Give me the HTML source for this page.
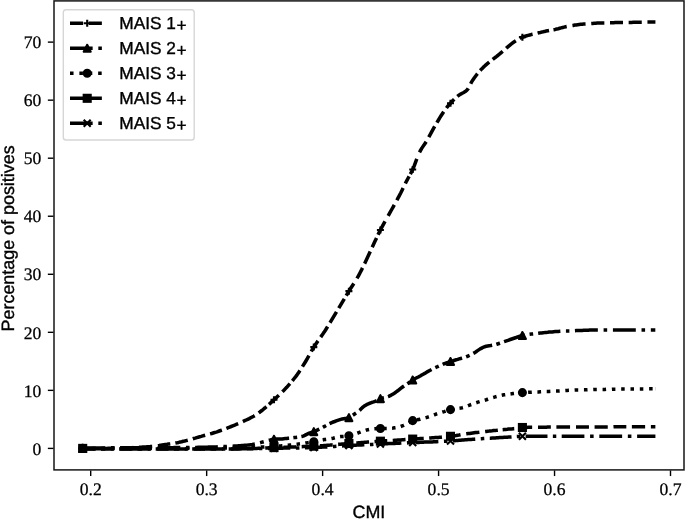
<!DOCTYPE html>
<html><head><meta charset="utf-8"><title>MAIS vs CMI</title>
<style>
html,body{margin:0;padding:0;background:#fff}
svg{display:block}
text{text-rendering:geometricPrecision}
.tk{font-family:"Liberation Serif","DejaVu Serif",serif;font-size:17.6px;fill:#000;stroke:#000;stroke-width:.25px}
.lb{font-family:"Liberation Sans","DejaVu Sans",sans-serif;font-size:17.9px;fill:#000;stroke:#000;stroke-width:.35px}
.lg{font-family:"Liberation Sans","DejaVu Sans",sans-serif;font-size:17.3px;fill:#000;stroke:#000;stroke-width:.35px}
</style></head><body>
<svg width="685" height="519" viewBox="0 0 685 519">
<rect width="685" height="519" fill="#fff"/>
<g fill="none" stroke="#000" stroke-width="3.54" stroke-linejoin="round">
<path d="M82.7 448.4 L84.2 448.4 L85.7 448.4 L87.2 448.4 L88.7 448.4 L90.2 448.4 L91.7 448.4 L93.2 448.4 L94.7 448.4 L96.2 448.4 L97.7 448.4 L99.2 448.4 L100.7 448.4 L102.2 448.4 L103.7 448.4 L105.2 448.4 L106.7 448.4 L108.2 448.3 L109.7 448.3 L111.2 448.3 L112.7 448.3 L114.2 448.2 L115.7 448.2 L117.2 448.2 L118.7 448.1 L120.2 448.1 L121.7 448.1 L123.2 448.0 L124.7 448.0 L126.2 447.9 L127.7 447.9 L129.2 447.8 L130.7 447.7 L132.2 447.7 L133.7 447.6 L135.2 447.5 L136.7 447.5 L138.2 447.4 L139.7 447.3 L141.2 447.2 L142.7 447.1 L144.2 447.0 L145.7 446.9 L147.2 446.8 L148.7 446.7 L150.2 446.6 L151.7 446.4 L153.2 446.3 L154.7 446.1 L156.2 445.9 L157.7 445.7 L159.2 445.5 L160.7 445.2 L162.2 445.0 L163.7 444.8 L165.2 444.6 L166.7 444.4 L168.2 444.1 L169.7 443.9 L171.2 443.7 L172.7 443.4 L174.2 443.2 L175.7 442.9 L177.2 442.7 L178.7 442.4 L180.2 442.0 L181.7 441.7 L183.2 441.3 L184.7 441.0 L186.2 440.6 L187.7 440.2 L189.2 439.8 L190.7 439.4 L192.2 439.0 L193.7 438.5 L195.2 438.1 L196.7 437.6 L198.2 437.2 L199.7 436.8 L201.2 436.4 L202.7 435.9 L204.2 435.5 L205.7 435.1 L207.2 434.7 L208.7 434.3 L210.2 433.9 L211.7 433.5 L213.2 433.0 L214.7 432.5 L216.2 432.1 L217.7 431.6 L219.2 431.0 L220.7 430.5 L222.2 430.0 L223.7 429.4 L225.2 428.9 L226.7 428.3 L228.2 427.7 L229.7 427.1 L231.2 426.5 L232.7 425.9 L234.2 425.3 L235.7 424.7 L237.2 424.0 L238.7 423.4 L240.2 422.7 L241.7 422.1 L243.2 421.4 L244.7 420.7 L246.2 420.0 L247.7 419.3 L249.2 418.6 L250.7 417.8 L252.2 417.0 L253.7 416.2 L255.2 415.3 L256.7 414.3 L258.2 413.3 L259.7 412.2 L261.2 411.0 L262.7 409.8 L264.2 408.5 L265.7 407.3 L267.2 406.0 L268.7 404.6 L270.2 403.3 L271.7 401.9 L273.2 400.5 L274.7 399.0 L276.2 397.7 L277.7 396.3 L279.2 394.9 L280.7 393.4 L282.2 392.0 L283.7 390.5 L285.2 388.9 L286.7 387.3 L288.2 385.6 L289.7 383.9 L291.2 382.2 L292.7 380.4 L294.2 378.5 L295.7 376.6 L297.2 374.6 L298.7 372.4 L300.2 370.2 L301.7 367.9 L303.2 365.4 L304.7 363.0 L306.2 360.5 L307.7 357.9 L309.2 355.3 L310.7 352.5 L312.2 349.8 L313.7 347.3 L315.2 344.9 L316.7 342.7 L318.2 340.6 L319.7 338.5 L321.2 336.4 L322.7 334.3 L324.2 332.1 L325.7 329.7 L327.2 327.3 L328.7 324.9 L330.2 322.4 L331.7 319.9 L333.2 317.4 L334.7 314.9 L336.2 312.4 L337.7 309.9 L339.2 307.4 L340.7 304.9 L342.2 302.4 L343.7 299.9 L345.2 297.4 L346.7 294.8 L348.2 292.3 L349.7 289.9 L351.2 287.5 L352.7 285.2 L354.2 282.9 L355.7 280.5 L357.2 278.0 L358.7 275.3 L360.2 272.5 L361.7 269.6 L363.2 266.5 L364.7 263.4 L366.2 260.3 L367.7 257.1 L369.2 253.8 L370.7 250.5 L372.2 247.2 L373.7 244.0 L375.2 240.8 L376.7 237.6 L378.2 234.4 L379.7 231.4 L381.2 228.5 L382.7 225.7 L384.2 222.9 L385.7 220.3 L387.2 217.6 L388.7 214.9 L390.2 212.2 L391.7 209.5 L393.2 206.9 L394.7 204.2 L396.2 201.5 L397.7 198.7 L399.2 195.9 L400.7 193.0 L402.2 189.9 L403.7 186.8 L405.2 183.8 L406.7 180.8 L408.2 178.0 L409.7 175.3 L411.2 172.5 L412.7 169.5 L414.2 165.9 L415.7 161.8 L417.2 157.7 L418.7 154.0 L420.2 151.0 L421.7 148.4 L423.2 146.1 L424.7 143.9 L426.2 141.6 L427.7 139.1 L429.2 136.4 L430.7 133.7 L432.2 130.9 L433.7 128.2 L435.2 125.6 L436.7 123.0 L438.2 120.5 L439.7 117.9 L441.2 115.5 L442.7 113.2 L444.2 111.0 L445.7 109.0 L447.2 107.0 L448.7 105.2 L450.2 103.5 L451.7 101.9 L453.2 100.3 L454.7 98.8 L456.2 97.4 L457.7 96.1 L459.2 95.0 L460.7 94.1 L462.2 93.3 L463.7 92.5 L465.2 91.6 L466.7 90.4 L468.2 88.6 L469.7 85.8 L471.2 82.7 L472.7 80.2 L474.2 78.0 L475.7 76.0 L477.2 74.0 L478.7 72.2 L480.2 70.5 L481.7 68.9 L483.2 67.4 L484.7 66.0 L486.2 64.6 L487.7 63.3 L489.2 62.1 L490.7 60.9 L492.2 59.8 L493.7 58.6 L495.2 57.5 L496.7 56.4 L498.2 55.1 L499.7 53.9 L501.2 52.6 L502.7 51.4 L504.2 50.1 L505.7 48.8 L507.2 47.4 L508.7 46.1 L510.2 44.8 L511.7 43.6 L513.2 42.5 L514.7 41.5 L516.2 40.5 L517.7 39.5 L519.2 38.6 L520.7 37.9 L522.2 37.2 L523.7 36.7 L525.2 36.2 L526.7 35.8 L528.2 35.4 L529.7 35.0 L531.2 34.6 L532.7 34.3 L534.2 33.9 L535.7 33.6 L537.2 33.2 L538.7 32.8 L540.2 32.5 L541.7 32.1 L543.2 31.8 L544.7 31.4 L546.2 31.1 L547.7 30.8 L549.2 30.5 L550.7 30.2 L552.2 29.9 L553.7 29.7 L555.2 29.4 L556.7 29.0 L558.2 28.7 L559.7 28.3 L561.2 27.9 L562.7 27.5 L564.2 27.1 L565.7 26.7 L567.2 26.4 L568.7 26.1 L570.2 25.9 L571.7 25.6 L573.2 25.4 L574.7 25.1 L576.2 24.9 L577.7 24.7 L579.2 24.5 L580.7 24.3 L582.2 24.2 L583.7 24.0 L585.2 23.9 L586.7 23.8 L588.2 23.7 L589.7 23.6 L591.2 23.5 L592.7 23.4 L594.2 23.3 L595.7 23.2 L597.2 23.1 L598.7 23.1 L600.2 23.0 L601.7 23.0 L603.2 22.9 L604.7 22.9 L606.2 22.8 L607.7 22.8 L609.2 22.7 L610.7 22.7 L612.2 22.7 L613.7 22.7 L615.2 22.6 L616.7 22.6 L618.2 22.6 L619.7 22.5 L621.2 22.5 L622.7 22.5 L624.2 22.5 L625.7 22.4 L627.2 22.4 L628.7 22.4 L630.2 22.4 L631.7 22.4 L633.2 22.3 L634.7 22.3 L636.2 22.3 L637.7 22.3 L639.2 22.2 L640.7 22.2 L642.2 22.2 L643.7 22.2 L645.2 22.2 L646.7 22.1 L648.2 22.1 L649.7 22.1 L651.2 22.1 L652.7 22.0 L654.2 22.0 L655.5 22.0" stroke-dasharray="13.09,5.66,13.09,5.66,13.10,5.67,13.29,5.75,12.52,5.15,12.75,5.20,12.88,5.11,12.43,4.75,12.77,5.15,13.20,4.82,9.98,3.31,13.64,4.90,11.02,3.76,12.77,4.62,12.75,4.79,12.60,4.63,12.62,4.54,12.60,4.46,10.79,3.72,14.37,5.96,11.88,4.71,13.35,4.83,10.23,3.51,15.01,6.38,12.50,5.40,13.66,5.06,8.10,2.50,16.65,7.05,12.61,5.15,12.26,4.41,12.88,4.57,11.78,4.25,13.65,5.33,12.03,4.28,12.37,4.36,12.87,4.61,12.26,4.68,13.43,5.16,11.72,4.51,13.63,5.82,13.21,5.71,13.14,5.68,12.99,5.62,13.13,5.68,8.00"/>
<path d="M82.7 448.4 L84.2 448.3 L85.7 448.1 L87.2 448.0 L88.7 447.9 L90.2 447.9 L91.7 447.9 L93.2 447.9 L94.7 447.9 L96.2 447.9 L97.7 447.9 L99.2 447.9 L100.7 447.9 L102.2 447.9 L103.7 447.9 L105.2 447.9 L106.7 447.9 L108.2 447.9 L109.7 447.8 L111.2 447.8 L112.7 447.8 L114.2 447.8 L115.7 447.8 L117.2 447.8 L118.7 447.8 L120.2 447.8 L121.7 447.8 L123.2 447.8 L124.7 447.8 L126.2 447.8 L127.7 447.8 L129.2 447.8 L130.7 447.8 L132.2 447.8 L133.7 447.8 L135.2 447.8 L136.7 447.8 L138.2 447.8 L139.7 447.8 L141.2 447.8 L142.7 447.8 L144.2 447.8 L145.7 447.8 L147.2 447.8 L148.7 447.8 L150.2 447.8 L151.7 447.8 L153.2 447.8 L154.7 447.8 L156.2 447.8 L157.7 447.8 L159.2 447.8 L160.7 447.8 L162.2 447.7 L163.7 447.7 L165.2 447.7 L166.7 447.7 L168.2 447.7 L169.7 447.7 L171.2 447.7 L172.7 447.7 L174.2 447.6 L175.7 447.6 L177.2 447.6 L178.7 447.6 L180.2 447.6 L181.7 447.6 L183.2 447.5 L184.7 447.5 L186.2 447.5 L187.7 447.5 L189.2 447.5 L190.7 447.4 L192.2 447.4 L193.7 447.4 L195.2 447.4 L196.7 447.4 L198.2 447.3 L199.7 447.3 L201.2 447.3 L202.7 447.3 L204.2 447.2 L205.7 447.2 L207.2 447.2 L208.7 447.1 L210.2 447.1 L211.7 447.0 L213.2 447.0 L214.7 446.9 L216.2 446.9 L217.7 446.8 L219.2 446.8 L220.7 446.7 L222.2 446.6 L223.7 446.6 L225.2 446.5 L226.7 446.5 L228.2 446.4 L229.7 446.3 L231.2 446.2 L232.7 446.2 L234.2 446.1 L235.7 446.0 L237.2 445.9 L238.7 445.8 L240.2 445.7 L241.7 445.6 L243.2 445.5 L244.7 445.3 L246.2 445.2 L247.7 445.1 L249.2 444.9 L250.7 444.7 L252.2 444.5 L253.7 444.2 L255.2 443.9 L256.7 443.5 L258.2 443.1 L259.7 442.8 L261.2 442.4 L262.7 442.0 L264.2 441.6 L265.7 441.2 L267.2 440.8 L268.7 440.3 L270.2 440.0 L271.7 439.6 L273.2 439.4 L274.7 439.2 L276.2 439.1 L277.7 439.1 L279.2 439.0 L280.7 438.9 L282.2 438.9 L283.7 438.7 L285.2 438.6 L286.7 438.5 L288.2 438.3 L289.7 438.2 L291.2 438.0 L292.7 437.8 L294.2 437.6 L295.7 437.5 L297.2 437.3 L298.7 437.1 L300.2 436.8 L301.7 436.5 L303.2 436.1 L304.7 435.4 L306.2 434.6 L307.7 433.9 L309.2 433.2 L310.7 432.7 L312.2 432.2 L313.7 431.6 L315.2 431.0 L316.7 430.3 L318.2 429.6 L319.7 428.9 L321.2 428.2 L322.7 427.4 L324.2 426.6 L325.7 425.8 L327.2 424.9 L328.7 424.0 L330.2 423.3 L331.7 422.6 L333.2 422.0 L334.7 421.5 L336.2 420.9 L337.7 420.4 L339.2 419.9 L340.7 419.4 L342.2 419.0 L343.7 418.7 L345.2 418.4 L346.7 418.2 L348.2 417.8 L349.7 417.3 L351.2 416.4 L352.7 415.3 L354.2 414.3 L355.7 413.2 L357.2 412.2 L358.7 411.0 L360.2 409.8 L361.7 408.3 L363.2 406.9 L364.7 405.8 L366.2 404.9 L367.7 404.2 L369.2 403.5 L370.7 402.9 L372.2 402.3 L373.7 401.9 L375.2 401.3 L376.7 400.7 L378.2 399.8 L379.7 398.9 L381.2 398.3 L382.7 397.9 L384.2 397.6 L385.7 397.3 L387.2 396.9 L388.7 396.4 L390.2 395.7 L391.7 394.8 L393.2 393.9 L394.7 393.0 L396.2 391.9 L397.7 390.8 L399.2 389.6 L400.7 388.4 L402.2 387.3 L403.7 386.2 L405.2 385.2 L406.7 384.2 L408.2 383.2 L409.7 382.1 L411.2 381.0 L412.7 380.0 L414.2 379.1 L415.7 378.3 L417.2 377.5 L418.7 376.8 L420.2 376.0 L421.7 375.1 L423.2 374.2 L424.7 373.4 L426.2 372.5 L427.7 371.6 L429.2 370.8 L430.7 370.0 L432.2 369.2 L433.7 368.4 L435.2 367.7 L436.7 367.0 L438.2 366.3 L439.7 365.6 L441.2 365.0 L442.7 364.3 L444.2 363.7 L445.7 363.2 L447.2 362.6 L448.7 362.1 L450.2 361.6 L451.7 361.1 L453.2 360.7 L454.7 360.2 L456.2 359.8 L457.7 359.4 L459.2 358.9 L460.7 358.5 L462.2 358.1 L463.7 357.7 L465.2 357.2 L466.7 356.6 L468.2 356.0 L469.7 355.3 L471.2 354.5 L472.7 353.7 L474.2 352.9 L475.7 352.0 L477.2 350.9 L478.7 349.9 L480.2 348.9 L481.7 348.1 L483.2 347.3 L484.7 346.7 L486.2 346.3 L487.7 346.0 L489.2 345.8 L490.7 345.6 L492.2 345.3 L493.7 345.0 L495.2 344.7 L496.7 344.2 L498.2 343.7 L499.7 343.2 L501.2 342.7 L502.7 342.1 L504.2 341.6 L505.7 341.1 L507.2 340.6 L508.7 340.1 L510.2 339.5 L511.7 339.0 L513.2 338.5 L514.7 338.0 L516.2 337.5 L517.7 336.9 L519.2 336.4 L520.7 335.9 L522.2 335.5 L523.7 335.2 L525.2 335.0 L526.7 334.7 L528.2 334.5 L529.7 334.3 L531.2 334.1 L532.7 333.9 L534.2 333.7 L535.7 333.5 L537.2 333.4 L538.7 333.2 L540.2 333.0 L541.7 332.9 L543.2 332.7 L544.7 332.6 L546.2 332.4 L547.7 332.3 L549.2 332.1 L550.7 332.0 L552.2 331.9 L553.7 331.7 L555.2 331.6 L556.7 331.5 L558.2 331.4 L559.7 331.3 L561.2 331.2 L562.7 331.2 L564.2 331.1 L565.7 331.0 L567.2 331.0 L568.7 330.9 L570.2 330.9 L571.7 330.8 L573.2 330.7 L574.7 330.7 L576.2 330.6 L577.7 330.6 L579.2 330.5 L580.7 330.5 L582.2 330.4 L583.7 330.3 L585.2 330.3 L586.7 330.2 L588.2 330.2 L589.7 330.1 L591.2 330.1 L592.7 330.0 L594.2 330.0 L595.7 330.0 L597.2 329.9 L598.7 329.9 L600.2 329.9 L601.7 329.9 L603.2 329.9 L604.7 329.9 L606.2 329.9 L607.7 329.9 L609.2 329.9 L610.7 329.9 L612.2 329.9 L613.7 329.9 L615.2 329.9 L616.7 329.9 L618.2 329.9 L619.7 329.9 L621.2 329.9 L622.7 329.9 L624.2 329.9 L625.7 329.9 L627.2 329.9 L628.7 329.9 L630.2 329.9 L631.7 329.9 L633.2 329.9 L634.7 329.9 L636.2 329.9 L637.7 329.9 L639.2 329.9 L640.7 329.9 L642.2 329.9 L643.7 329.9 L645.2 329.9 L646.7 329.9 L648.2 329.9 L649.7 329.9 L651.2 329.9 L652.7 329.9 L654.2 329.9 L655.5 329.9" stroke-dasharray="22.65,5.66,3.54,5.66,22.64,5.66,3.54,5.66,22.64,5.66,3.54,5.66,22.59,5.65,3.53,5.65,22.46,5.32,3.83,5.18,20.54,4.29,3.82,4.29,19.46,3.99,3.63,3.99,20.73,4.31,3.83,4.31,20.11,4.15,3.73,4.15,19.38,3.97,3.62,3.97,20.50,4.25,3.79,4.25,20.45,4.24,3.79,4.24,20.76,4.31,3.83,4.32,21.71,4.92,3.62,5.04,22.33,5.55,3.47,5.55,22.95,5.74,3.59,5.74,22.88,5.72,3.58,5.72,4.50"/>
<path d="M82.7 448.4 L84.2 448.4 L85.7 448.4 L87.2 448.4 L88.7 448.4 L90.2 448.4 L91.7 448.4 L93.2 448.4 L94.7 448.4 L96.2 448.4 L97.7 448.4 L99.2 448.4 L100.7 448.4 L102.2 448.4 L103.7 448.4 L105.2 448.4 L106.7 448.4 L108.2 448.4 L109.7 448.4 L111.2 448.4 L112.7 448.4 L114.2 448.4 L115.7 448.4 L117.2 448.4 L118.7 448.4 L120.2 448.4 L121.7 448.4 L123.2 448.4 L124.7 448.4 L126.2 448.4 L127.7 448.4 L129.2 448.4 L130.7 448.4 L132.2 448.4 L133.7 448.4 L135.2 448.4 L136.7 448.4 L138.2 448.4 L139.7 448.4 L141.2 448.4 L142.7 448.3 L144.2 448.3 L145.7 448.3 L147.2 448.3 L148.7 448.3 L150.2 448.3 L151.7 448.3 L153.2 448.3 L154.7 448.3 L156.2 448.3 L157.7 448.3 L159.2 448.3 L160.7 448.3 L162.2 448.3 L163.7 448.3 L165.2 448.3 L166.7 448.3 L168.2 448.3 L169.7 448.3 L171.2 448.3 L172.7 448.3 L174.2 448.3 L175.7 448.3 L177.2 448.3 L178.7 448.3 L180.2 448.3 L181.7 448.3 L183.2 448.3 L184.7 448.2 L186.2 448.2 L187.7 448.2 L189.2 448.2 L190.7 448.2 L192.2 448.2 L193.7 448.2 L195.2 448.2 L196.7 448.2 L198.2 448.2 L199.7 448.2 L201.2 448.2 L202.7 448.2 L204.2 448.2 L205.7 448.2 L207.2 448.2 L208.7 448.2 L210.2 448.1 L211.7 448.1 L213.2 448.1 L214.7 448.1 L216.2 448.1 L217.7 448.1 L219.2 448.0 L220.7 448.0 L222.2 448.0 L223.7 448.0 L225.2 448.0 L226.7 447.9 L228.2 447.9 L229.7 447.9 L231.2 447.9 L232.7 447.8 L234.2 447.8 L235.7 447.8 L237.2 447.8 L238.7 447.7 L240.2 447.7 L241.7 447.7 L243.2 447.6 L244.7 447.6 L246.2 447.6 L247.7 447.6 L249.2 447.5 L250.7 447.5 L252.2 447.4 L253.7 447.4 L255.2 447.4 L256.7 447.3 L258.2 447.3 L259.7 447.2 L261.2 447.1 L262.7 447.1 L264.2 447.0 L265.7 446.9 L267.2 446.9 L268.7 446.8 L270.2 446.7 L271.7 446.6 L273.2 446.5 L274.7 446.5 L276.2 446.4 L277.7 446.2 L279.2 446.1 L280.7 446.0 L282.2 445.8 L283.7 445.7 L285.2 445.5 L286.7 445.4 L288.2 445.2 L289.7 445.0 L291.2 444.9 L292.7 444.7 L294.2 444.5 L295.7 444.3 L297.2 444.2 L298.7 444.0 L300.2 443.8 L301.7 443.6 L303.2 443.4 L304.7 443.2 L306.2 442.9 L307.7 442.7 L309.2 442.5 L310.7 442.2 L312.2 442.0 L313.7 441.7 L315.2 441.4 L316.7 441.1 L318.2 440.8 L319.7 440.4 L321.2 440.1 L322.7 439.9 L324.2 439.6 L325.7 439.4 L327.2 439.2 L328.7 439.0 L330.2 438.8 L331.7 438.5 L333.2 438.2 L334.7 437.8 L336.2 437.4 L337.7 437.1 L339.2 436.8 L340.7 436.6 L342.2 436.5 L343.7 436.4 L345.2 436.2 L346.7 436.1 L348.2 435.9 L349.7 435.7 L351.2 435.3 L352.7 434.8 L354.2 434.3 L355.7 433.8 L357.2 433.3 L358.7 432.7 L360.2 432.1 L361.7 431.5 L363.2 431.0 L364.7 430.6 L366.2 430.1 L367.7 429.7 L369.2 429.4 L370.7 429.1 L372.2 428.9 L373.7 428.8 L375.2 428.7 L376.7 428.6 L378.2 428.6 L379.7 428.5 L381.2 428.5 L382.7 428.4 L384.2 428.4 L385.7 428.4 L387.2 428.4 L388.7 428.4 L390.2 428.3 L391.7 428.2 L393.2 428.1 L394.7 427.8 L396.2 427.6 L397.7 427.2 L399.2 426.9 L400.7 426.5 L402.2 425.9 L403.7 425.3 L405.2 424.6 L406.7 423.9 L408.2 423.1 L409.7 422.2 L411.2 421.2 L412.7 420.6 L414.2 420.2 L415.7 419.9 L417.2 419.7 L418.7 419.4 L420.2 419.2 L421.7 418.8 L423.2 418.4 L424.7 418.0 L426.2 417.6 L427.7 417.1 L429.2 416.6 L430.7 416.1 L432.2 415.6 L433.7 415.0 L435.2 414.5 L436.7 413.9 L438.2 413.4 L439.7 412.9 L441.2 412.5 L442.7 412.0 L444.2 411.6 L445.7 411.1 L447.2 410.6 L448.7 410.1 L450.2 409.7 L451.7 409.3 L453.2 409.1 L454.7 408.8 L456.2 408.6 L457.7 408.4 L459.2 408.2 L460.7 408.0 L462.2 407.7 L463.7 407.3 L465.2 406.8 L466.7 406.3 L468.2 405.7 L469.7 405.1 L471.2 404.5 L472.7 404.0 L474.2 403.4 L475.7 402.9 L477.2 402.4 L478.7 401.9 L480.2 401.4 L481.7 401.0 L483.2 400.6 L484.7 400.2 L486.2 399.8 L487.7 399.3 L489.2 398.8 L490.7 398.3 L492.2 397.8 L493.7 397.4 L495.2 396.9 L496.7 396.5 L498.2 396.1 L499.7 395.7 L501.2 395.4 L502.7 395.1 L504.2 394.8 L505.7 394.6 L507.2 394.4 L508.7 394.2 L510.2 394.0 L511.7 393.8 L513.2 393.6 L514.7 393.4 L516.2 393.2 L517.7 393.1 L519.2 392.9 L520.7 392.7 L522.2 392.6 L523.7 392.5 L525.2 392.4 L526.7 392.4 L528.2 392.3 L529.7 392.2 L531.2 392.2 L532.7 392.1 L534.2 392.0 L535.7 392.0 L537.2 391.9 L538.7 391.9 L540.2 391.8 L541.7 391.7 L543.2 391.7 L544.7 391.6 L546.2 391.5 L547.7 391.5 L549.2 391.4 L550.7 391.3 L552.2 391.3 L553.7 391.2 L555.2 391.1 L556.7 391.1 L558.2 391.0 L559.7 390.9 L561.2 390.8 L562.7 390.7 L564.2 390.6 L565.7 390.5 L567.2 390.4 L568.7 390.3 L570.2 390.2 L571.7 390.2 L573.2 390.1 L574.7 390.0 L576.2 390.0 L577.7 389.9 L579.2 389.9 L580.7 389.8 L582.2 389.8 L583.7 389.7 L585.2 389.7 L586.7 389.7 L588.2 389.6 L589.7 389.6 L591.2 389.6 L592.7 389.6 L594.2 389.5 L595.7 389.5 L597.2 389.5 L598.7 389.5 L600.2 389.4 L601.7 389.4 L603.2 389.4 L604.7 389.4 L606.2 389.3 L607.7 389.3 L609.2 389.3 L610.7 389.3 L612.2 389.2 L613.7 389.2 L615.2 389.2 L616.7 389.2 L618.2 389.2 L619.7 389.1 L621.2 389.1 L622.7 389.1 L624.2 389.1 L625.7 389.1 L627.2 389.0 L628.7 389.0 L630.2 389.0 L631.7 389.0 L633.2 389.0 L634.7 389.0 L636.2 388.9 L637.7 388.9 L639.2 388.9 L640.7 388.9 L642.2 388.9 L643.7 388.9 L645.2 388.9 L646.7 388.8 L648.2 388.8 L649.7 388.8 L651.2 388.8 L652.7 388.8 L654.2 388.8 L655.5 388.8" stroke-dasharray="3.54,5.84,3.54,5.84,3.54,5.84,3.54,5.84,3.54,5.84,3.54,5.84,3.54,5.84,3.54,5.84,3.54,5.84,3.54,5.84,3.54,5.84,3.54,5.83,3.55,5.82,3.57,5.80,3.58,5.78,3.60,5.77,3.61,5.75,3.63,5.74,3.64,5.72,3.66,5.71,3.47,5.38,3.48,5.37,3.48,5.37,3.48,5.37,3.48,5.37,3.49,5.36,3.49,5.36,3.49,5.36,3.49,5.36,3.50,5.35,3.50,5.35,3.50,5.35,3.50,5.35,3.51,5.34,3.51,5.34,3.51,5.34,3.51,5.34,3.52,5.33,3.52,5.33,3.52,5.33,3.52,5.33,3.52,5.32,3.53,5.32,3.53,5.32,3.53,5.32,3.53,5.32,3.54,5.31,3.54,5.31,3.54,5.31,3.54,5.31,3.71,5.61,3.69,5.63,3.67,5.66,3.64,5.68,3.62,5.70,3.59,5.73,3.57,5.75,3.54,5.78,3.52,5.80,3.51,5.80,3.51,5.80,3.51,5.80,3.51,5.80,3.54,2.71"/>
<path d="M82.7 448.4 L84.2 448.5 L85.7 448.7 L87.2 448.9 L88.7 449.0 L90.2 449.0 L91.7 449.0 L93.2 449.0 L94.7 449.0 L96.2 449.0 L97.7 449.0 L99.2 449.0 L100.7 449.0 L102.2 449.0 L103.7 449.0 L105.2 449.0 L106.7 449.0 L108.2 449.0 L109.7 449.0 L111.2 449.0 L112.7 449.0 L114.2 449.0 L115.7 449.1 L117.2 449.1 L118.7 449.1 L120.2 449.1 L121.7 449.1 L123.2 449.1 L124.7 449.1 L126.2 449.1 L127.7 449.1 L129.2 449.1 L130.7 449.1 L132.2 449.1 L133.7 449.1 L135.2 449.1 L136.7 449.1 L138.2 449.1 L139.7 449.1 L141.2 449.1 L142.7 449.1 L144.2 449.1 L145.7 449.1 L147.2 449.1 L148.7 449.1 L150.2 449.1 L151.7 449.1 L153.2 449.1 L154.7 449.1 L156.2 449.1 L157.7 449.1 L159.2 449.1 L160.7 449.1 L162.2 449.1 L163.7 449.1 L165.2 449.1 L166.7 449.1 L168.2 449.1 L169.7 449.1 L171.2 449.1 L172.7 449.1 L174.2 449.1 L175.7 449.1 L177.2 449.1 L178.7 449.1 L180.2 449.1 L181.7 449.1 L183.2 449.1 L184.7 449.1 L186.2 449.1 L187.7 449.1 L189.2 449.1 L190.7 449.1 L192.2 449.1 L193.7 449.1 L195.2 449.1 L196.7 449.1 L198.2 449.1 L199.7 449.1 L201.2 449.1 L202.7 449.1 L204.2 449.1 L205.7 449.1 L207.2 449.1 L208.7 449.1 L210.2 449.1 L211.7 449.1 L213.2 449.1 L214.7 449.0 L216.2 449.0 L217.7 449.0 L219.2 449.0 L220.7 449.0 L222.2 449.0 L223.7 449.0 L225.2 449.0 L226.7 448.9 L228.2 448.9 L229.7 448.9 L231.2 448.9 L232.7 448.9 L234.2 448.8 L235.7 448.8 L237.2 448.8 L238.7 448.8 L240.2 448.8 L241.7 448.7 L243.2 448.7 L244.7 448.7 L246.2 448.7 L247.7 448.6 L249.2 448.6 L250.7 448.6 L252.2 448.6 L253.7 448.5 L255.2 448.5 L256.7 448.4 L258.2 448.3 L259.7 448.3 L261.2 448.2 L262.7 448.1 L264.2 448.1 L265.7 448.0 L267.2 447.9 L268.7 447.8 L270.2 447.8 L271.7 447.7 L273.2 447.6 L274.7 447.6 L276.2 447.5 L277.7 447.5 L279.2 447.4 L280.7 447.4 L282.2 447.3 L283.7 447.3 L285.2 447.2 L286.7 447.2 L288.2 447.1 L289.7 447.1 L291.2 447.0 L292.7 447.0 L294.2 446.9 L295.7 446.9 L297.2 446.8 L298.7 446.8 L300.2 446.7 L301.7 446.7 L303.2 446.6 L304.7 446.6 L306.2 446.5 L307.7 446.5 L309.2 446.4 L310.7 446.3 L312.2 446.3 L313.7 446.2 L315.2 446.1 L316.7 446.0 L318.2 446.0 L319.7 445.9 L321.2 445.8 L322.7 445.7 L324.2 445.5 L325.7 445.4 L327.2 445.3 L328.7 445.2 L330.2 445.1 L331.7 444.9 L333.2 444.8 L334.7 444.7 L336.2 444.5 L337.7 444.4 L339.2 444.3 L340.7 444.2 L342.2 444.0 L343.7 443.9 L345.2 443.8 L346.7 443.7 L348.2 443.6 L349.7 443.4 L351.2 443.3 L352.7 443.2 L354.2 443.1 L355.7 443.0 L357.2 442.9 L358.7 442.8 L360.2 442.7 L361.7 442.5 L363.2 442.4 L364.7 442.3 L366.2 442.2 L367.7 442.1 L369.2 442.0 L370.7 441.9 L372.2 441.8 L373.7 441.7 L375.2 441.6 L376.7 441.5 L378.2 441.4 L379.7 441.2 L381.2 441.1 L382.7 441.0 L384.2 440.9 L385.7 440.8 L387.2 440.7 L388.7 440.6 L390.2 440.6 L391.7 440.5 L393.2 440.4 L394.7 440.3 L396.2 440.2 L397.7 440.1 L399.2 440.0 L400.7 439.9 L402.2 439.8 L403.7 439.7 L405.2 439.6 L406.7 439.5 L408.2 439.4 L409.7 439.3 L411.2 439.2 L412.7 439.1 L414.2 439.0 L415.7 438.9 L417.2 438.8 L418.7 438.7 L420.2 438.6 L421.7 438.5 L423.2 438.4 L424.7 438.3 L426.2 438.2 L427.7 438.1 L429.2 438.0 L430.7 437.9 L432.2 437.8 L433.7 437.7 L435.2 437.6 L436.7 437.5 L438.2 437.4 L439.7 437.3 L441.2 437.2 L442.7 437.0 L444.2 436.9 L445.7 436.8 L447.2 436.6 L448.7 436.5 L450.2 436.3 L451.7 436.2 L453.2 436.0 L454.7 435.7 L456.2 435.5 L457.7 435.2 L459.2 435.0 L460.7 434.7 L462.2 434.4 L463.7 434.2 L465.2 434.0 L466.7 433.8 L468.2 433.6 L469.7 433.4 L471.2 433.2 L472.7 433.0 L474.2 432.8 L475.7 432.6 L477.2 432.4 L478.7 432.3 L480.2 432.1 L481.7 431.9 L483.2 431.7 L484.7 431.6 L486.2 431.4 L487.7 431.2 L489.2 431.1 L490.7 430.9 L492.2 430.8 L493.7 430.6 L495.2 430.4 L496.7 430.3 L498.2 430.1 L499.7 430.0 L501.2 429.8 L502.7 429.7 L504.2 429.5 L505.7 429.4 L507.2 429.3 L508.7 429.1 L510.2 429.0 L511.7 428.9 L513.2 428.7 L514.7 428.6 L516.2 428.4 L517.7 428.1 L519.2 427.9 L520.7 427.6 L522.2 427.5 L523.7 427.5 L525.2 427.4 L526.7 427.4 L528.2 427.3 L529.7 427.3 L531.2 427.3 L532.7 427.3 L534.2 427.3 L535.7 427.2 L537.2 427.2 L538.7 427.2 L540.2 427.2 L541.7 427.2 L543.2 427.2 L544.7 427.2 L546.2 427.2 L547.7 427.1 L549.2 427.1 L550.7 427.1 L552.2 427.1 L553.7 427.1 L555.2 427.1 L556.7 427.1 L558.2 427.1 L559.7 427.1 L561.2 427.1 L562.7 427.1 L564.2 427.0 L565.7 427.0 L567.2 427.0 L568.7 427.0 L570.2 427.0 L571.7 427.0 L573.2 427.0 L574.7 427.0 L576.2 427.0 L577.7 427.0 L579.2 427.0 L580.7 427.0 L582.2 427.0 L583.7 427.0 L585.2 427.0 L586.7 427.0 L588.2 426.9 L589.7 426.9 L591.2 426.9 L592.7 426.9 L594.2 426.9 L595.7 426.9 L597.2 426.9 L598.7 426.9 L600.2 426.9 L601.7 426.9 L603.2 426.9 L604.7 426.9 L606.2 426.9 L607.7 426.9 L609.2 426.9 L610.7 426.9 L612.2 426.9 L613.7 426.8 L615.2 426.8 L616.7 426.8 L618.2 426.8 L619.7 426.8 L621.2 426.8 L622.7 426.8 L624.2 426.8 L625.7 426.8 L627.2 426.8 L628.7 426.8 L630.2 426.8 L631.7 426.8 L633.2 426.8 L634.7 426.8 L636.2 426.8 L637.7 426.8 L639.2 426.8 L640.7 426.7 L642.2 426.7 L643.7 426.7 L645.2 426.7 L646.7 426.7 L648.2 426.7 L649.7 426.7 L651.2 426.7 L652.7 426.7 L654.2 426.7 L655.5 426.7" stroke-dasharray="12.78,5.45,12.81,5.45,12.81,5.45,12.81,5.45,12.81,5.45,12.81,5.45,12.81,5.45,12.81,5.45,12.81,5.46,12.81,5.46,12.80,5.46,12.80,5.46,12.80,5.46,12.80,5.46,12.80,5.46,12.80,5.46,12.80,5.46,12.80,5.46,12.80,5.46,12.80,5.47,13.30,5.74,13.29,5.75,12.83,4.82,11.65,4.29,13.71,5.84,12.85,5.55,13.68,5.92,12.98,5.62,13.19,5.71,12.85,5.55,13.26,5.74,4.50"/>
<path d="M82.7 448.4 L84.2 448.5 L85.7 448.6 L87.2 448.7 L88.7 448.8 L90.2 448.8 L91.7 448.8 L93.2 448.8 L94.7 448.8 L96.2 448.8 L97.7 448.8 L99.2 448.8 L100.7 448.8 L102.2 448.8 L103.7 448.8 L105.2 448.8 L106.7 448.8 L108.2 448.8 L109.7 448.8 L111.2 448.8 L112.7 448.8 L114.2 448.8 L115.7 448.8 L117.2 448.8 L118.7 448.8 L120.2 448.8 L121.7 448.9 L123.2 448.9 L124.7 448.9 L126.2 448.9 L127.7 448.9 L129.2 448.9 L130.7 448.9 L132.2 448.9 L133.7 448.9 L135.2 448.9 L136.7 448.9 L138.2 448.9 L139.7 448.9 L141.2 448.9 L142.7 448.9 L144.2 448.9 L145.7 448.9 L147.2 448.9 L148.7 448.9 L150.2 448.9 L151.7 448.9 L153.2 448.9 L154.7 448.9 L156.2 448.9 L157.7 448.9 L159.2 448.9 L160.7 448.9 L162.2 448.9 L163.7 448.9 L165.2 448.9 L166.7 448.9 L168.2 448.9 L169.7 448.9 L171.2 448.9 L172.7 448.9 L174.2 448.9 L175.7 448.9 L177.2 448.9 L178.7 448.9 L180.2 448.9 L181.7 448.9 L183.2 448.9 L184.7 448.9 L186.2 448.9 L187.7 448.9 L189.2 448.9 L190.7 448.9 L192.2 448.9 L193.7 448.9 L195.2 448.9 L196.7 448.9 L198.2 448.9 L199.7 448.9 L201.2 448.9 L202.7 448.9 L204.2 448.9 L205.7 448.9 L207.2 448.9 L208.7 448.9 L210.2 448.9 L211.7 448.9 L213.2 448.9 L214.7 448.9 L216.2 448.9 L217.7 448.9 L219.2 448.9 L220.7 448.9 L222.2 448.9 L223.7 448.9 L225.2 448.9 L226.7 448.9 L228.2 448.9 L229.7 448.9 L231.2 448.9 L232.7 448.9 L234.2 448.9 L235.7 448.9 L237.2 448.9 L238.7 448.9 L240.2 448.8 L241.7 448.8 L243.2 448.8 L244.7 448.8 L246.2 448.8 L247.7 448.8 L249.2 448.7 L250.7 448.7 L252.2 448.7 L253.7 448.7 L255.2 448.6 L256.7 448.6 L258.2 448.6 L259.7 448.6 L261.2 448.5 L262.7 448.5 L264.2 448.5 L265.7 448.4 L267.2 448.4 L268.7 448.4 L270.2 448.4 L271.7 448.3 L273.2 448.3 L274.7 448.3 L276.2 448.3 L277.7 448.2 L279.2 448.2 L280.7 448.2 L282.2 448.2 L283.7 448.1 L285.2 448.1 L286.7 448.1 L288.2 448.1 L289.7 448.0 L291.2 448.0 L292.7 448.0 L294.2 448.0 L295.7 447.9 L297.2 447.9 L298.7 447.9 L300.2 447.8 L301.7 447.8 L303.2 447.8 L304.7 447.7 L306.2 447.7 L307.7 447.7 L309.2 447.6 L310.7 447.6 L312.2 447.5 L313.7 447.5 L315.2 447.5 L316.7 447.4 L318.2 447.3 L319.7 447.3 L321.2 447.2 L322.7 447.1 L324.2 447.0 L325.7 446.9 L327.2 446.9 L328.7 446.8 L330.2 446.7 L331.7 446.6 L333.2 446.5 L334.7 446.4 L336.2 446.3 L337.7 446.2 L339.2 446.1 L340.7 446.0 L342.2 445.9 L343.7 445.8 L345.2 445.7 L346.7 445.6 L348.2 445.5 L349.7 445.5 L351.2 445.4 L352.7 445.3 L354.2 445.2 L355.7 445.2 L357.2 445.1 L358.7 445.0 L360.2 444.9 L361.7 444.9 L363.2 444.8 L364.7 444.7 L366.2 444.7 L367.7 444.6 L369.2 444.5 L370.7 444.4 L372.2 444.4 L373.7 444.3 L375.2 444.2 L376.7 444.2 L378.2 444.1 L379.7 444.0 L381.2 444.0 L382.7 443.9 L384.2 443.8 L385.7 443.8 L387.2 443.7 L388.7 443.6 L390.2 443.6 L391.7 443.5 L393.2 443.4 L394.7 443.4 L396.2 443.3 L397.7 443.2 L399.2 443.2 L400.7 443.1 L402.2 443.0 L403.7 443.0 L405.2 442.9 L406.7 442.9 L408.2 442.8 L409.7 442.7 L411.2 442.7 L412.7 442.6 L414.2 442.5 L415.7 442.5 L417.2 442.4 L418.7 442.4 L420.2 442.3 L421.7 442.2 L423.2 442.2 L424.7 442.1 L426.2 442.1 L427.7 442.0 L429.2 442.0 L430.7 441.9 L432.2 441.9 L433.7 441.8 L435.2 441.7 L436.7 441.7 L438.2 441.6 L439.7 441.5 L441.2 441.5 L442.7 441.4 L444.2 441.3 L445.7 441.3 L447.2 441.2 L448.7 441.1 L450.2 441.0 L451.7 440.9 L453.2 440.8 L454.7 440.7 L456.2 440.6 L457.7 440.4 L459.2 440.3 L460.7 440.2 L462.2 440.0 L463.7 439.9 L465.2 439.8 L466.7 439.7 L468.2 439.6 L469.7 439.5 L471.2 439.4 L472.7 439.3 L474.2 439.2 L475.7 439.1 L477.2 439.0 L478.7 438.9 L480.2 438.8 L481.7 438.7 L483.2 438.6 L484.7 438.5 L486.2 438.4 L487.7 438.3 L489.2 438.2 L490.7 438.2 L492.2 438.1 L493.7 438.0 L495.2 437.9 L496.7 437.8 L498.2 437.7 L499.7 437.6 L501.2 437.5 L502.7 437.4 L504.2 437.3 L505.7 437.3 L507.2 437.2 L508.7 437.1 L510.2 437.0 L511.7 436.9 L513.2 436.8 L514.7 436.7 L516.2 436.6 L517.7 436.5 L519.2 436.4 L520.7 436.3 L522.2 436.3 L523.7 436.3 L525.2 436.3 L526.7 436.3 L528.2 436.3 L529.7 436.3 L531.2 436.3 L532.7 436.3 L534.2 436.3 L535.7 436.3 L537.2 436.3 L538.7 436.3 L540.2 436.3 L541.7 436.3 L543.2 436.3 L544.7 436.3 L546.2 436.3 L547.7 436.3 L549.2 436.3 L550.7 436.3 L552.2 436.3 L553.7 436.3 L555.2 436.3 L556.7 436.3 L558.2 436.3 L559.7 436.3 L561.2 436.3 L562.7 436.3 L564.2 436.3 L565.7 436.3 L567.2 436.3 L568.7 436.3 L570.2 436.3 L571.7 436.3 L573.2 436.3 L574.7 436.3 L576.2 436.3 L577.7 436.3 L579.2 436.3 L580.7 436.3 L582.2 436.3 L583.7 436.3 L585.2 436.3 L586.7 436.3 L588.2 436.3 L589.7 436.3 L591.2 436.3 L592.7 436.3 L594.2 436.3 L595.7 436.3 L597.2 436.3 L598.7 436.3 L600.2 436.3 L601.7 436.3 L603.2 436.3 L604.7 436.3 L606.2 436.3 L607.7 436.3 L609.2 436.3 L610.7 436.3 L612.2 436.3 L613.7 436.3 L615.2 436.3 L616.7 436.3 L618.2 436.3 L619.7 436.3 L621.2 436.2 L622.7 436.2 L624.2 436.2 L625.7 436.2 L627.2 436.2 L628.7 436.2 L630.2 436.2 L631.7 436.2 L633.2 436.2 L634.7 436.2 L636.2 436.2 L637.7 436.2 L639.2 436.2 L640.7 436.2 L642.2 436.2 L643.7 436.2 L645.2 436.2 L646.7 436.2 L648.2 436.2 L649.7 436.2 L651.2 436.2 L652.7 436.2 L654.2 436.2 L655.5 436.2" stroke-dasharray="22.38,5.59,3.50,5.59,22.38,5.59,3.50,5.59,22.38,5.59,3.50,5.59,22.38,5.59,3.50,5.59,22.38,5.59,3.50,5.59,22.38,5.59,3.50,5.59,22.38,5.59,3.50,5.59,22.38,5.59,3.50,5.59,22.38,5.59,3.50,5.59,22.38,5.59,3.50,5.59,22.29,5.53,3.54,5.49,21.83,5.26,3.57,5.24,21.88,5.37,3.43,5.42,22.70,5.68,3.55,5.68,22.82,5.71,3.57,5.71,18.30"/>
</g>
<g>
<path d="M79.20 448.40H86.20M82.70 444.90V451.90" stroke="#000" stroke-width="2.10" fill="none"/>
<path d="M270.50 399.70H277.50M274.00 396.20V403.20" stroke="#000" stroke-width="2.10" fill="none"/>
<path d="M310.30 347.12H317.30M313.80 343.62V350.62" stroke="#000" stroke-width="2.10" fill="none"/>
<path d="M345.40 291.17H352.40M348.90 287.67V294.67" stroke="#000" stroke-width="2.10" fill="none"/>
<path d="M376.90 230.01H383.90M380.40 226.51V233.51" stroke="#000" stroke-width="2.10" fill="none"/>
<path d="M409.20 169.50H416.20M412.70 166.00V173.00" stroke="#000" stroke-width="2.10" fill="none"/>
<path d="M447.00 103.20H454.00M450.50 99.70V106.70" stroke="#000" stroke-width="2.10" fill="none"/>
<path d="M518.90 37.15H525.90M522.40 33.65V40.65" stroke="#000" stroke-width="2.10" fill="none"/>
<path d="M82.70 444.90L79.20 451.90L86.20 451.90Z" stroke="#000" stroke-width="2.10" stroke-linejoin="round" fill="#000"/>
<path d="M274.00 435.80L270.50 442.80L277.50 442.80Z" stroke="#000" stroke-width="2.10" stroke-linejoin="round" fill="#000"/>
<path d="M313.80 428.10L310.30 435.10L317.30 435.10Z" stroke="#000" stroke-width="2.10" stroke-linejoin="round" fill="#000"/>
<path d="M348.90 414.10L345.40 421.10L352.40 421.10Z" stroke="#000" stroke-width="2.10" stroke-linejoin="round" fill="#000"/>
<path d="M380.40 395.10L376.90 402.10L383.90 402.10Z" stroke="#000" stroke-width="2.10" stroke-linejoin="round" fill="#000"/>
<path d="M412.70 376.50L409.20 383.50L416.20 383.50Z" stroke="#000" stroke-width="2.10" stroke-linejoin="round" fill="#000"/>
<path d="M450.50 358.00L447.00 365.00L454.00 365.00Z" stroke="#000" stroke-width="2.10" stroke-linejoin="round" fill="#000"/>
<path d="M522.40 332.00L518.90 339.00L525.90 339.00Z" stroke="#000" stroke-width="2.10" stroke-linejoin="round" fill="#000"/>
<circle cx="82.70" cy="448.40" r="3.50" stroke="#000" stroke-width="2.10" fill="#000"/>
<circle cx="274.00" cy="446.50" r="3.50" stroke="#000" stroke-width="2.10" fill="#000"/>
<circle cx="313.80" cy="441.70" r="3.50" stroke="#000" stroke-width="2.10" fill="#000"/>
<circle cx="348.90" cy="435.80" r="3.50" stroke="#000" stroke-width="2.10" fill="#000"/>
<circle cx="380.40" cy="428.50" r="3.50" stroke="#000" stroke-width="2.10" fill="#000"/>
<circle cx="412.70" cy="420.60" r="3.50" stroke="#000" stroke-width="2.10" fill="#000"/>
<circle cx="450.50" cy="409.60" r="3.50" stroke="#000" stroke-width="2.10" fill="#000"/>
<circle cx="522.40" cy="392.60" r="3.50" stroke="#000" stroke-width="2.10" fill="#000"/>
<rect x="79.20" y="444.90" width="7.00" height="7.00" stroke="#000" stroke-width="2.10" fill="#000"/>
<rect x="270.50" y="444.10" width="7.00" height="7.00" stroke="#000" stroke-width="2.10" fill="#000"/>
<rect x="310.30" y="442.70" width="7.00" height="7.00" stroke="#000" stroke-width="2.10" fill="#000"/>
<rect x="345.40" y="440.00" width="7.00" height="7.00" stroke="#000" stroke-width="2.10" fill="#000"/>
<rect x="376.90" y="437.70" width="7.00" height="7.00" stroke="#000" stroke-width="2.10" fill="#000"/>
<rect x="409.20" y="435.60" width="7.00" height="7.00" stroke="#000" stroke-width="2.10" fill="#000"/>
<rect x="447.00" y="432.80" width="7.00" height="7.00" stroke="#000" stroke-width="2.10" fill="#000"/>
<rect x="518.90" y="424.00" width="7.00" height="7.00" stroke="#000" stroke-width="2.10" fill="#000"/>
<path d="M79.20 444.90L86.20 451.90M79.20 451.90L86.20 444.90" stroke="#000" stroke-width="2.10" fill="none"/>
<path d="M270.50 444.80L277.50 451.80M270.50 451.80L277.50 444.80" stroke="#000" stroke-width="2.10" fill="none"/>
<path d="M310.30 444.00L317.30 451.00M310.30 451.00L317.30 444.00" stroke="#000" stroke-width="2.10" fill="none"/>
<path d="M345.40 442.00L352.40 449.00M345.40 449.00L352.40 442.00" stroke="#000" stroke-width="2.10" fill="none"/>
<path d="M376.90 440.50L383.90 447.50M376.90 447.50L383.90 440.50" stroke="#000" stroke-width="2.10" fill="none"/>
<path d="M409.20 439.10L416.20 446.10M409.20 446.10L416.20 439.10" stroke="#000" stroke-width="2.10" fill="none"/>
<path d="M447.00 437.50L454.00 444.50M447.00 444.50L454.00 437.50" stroke="#000" stroke-width="2.10" fill="none"/>
<path d="M518.90 432.80L525.90 439.80M518.90 439.80L525.90 432.80" stroke="#000" stroke-width="2.10" fill="none"/>
</g>
<rect x="54.00" y="0.90" width="630.00" height="469.00" fill="none" stroke="#161616" stroke-width="1.50"/>
<path d="M90.70 470.45V476.05" stroke="#000" stroke-width="1.40"/>
<text x="90.70" y="494.90" text-anchor="middle" class="tk">0.2</text>
<path d="M206.66 470.45V476.05" stroke="#000" stroke-width="1.40"/>
<text x="206.66" y="494.90" text-anchor="middle" class="tk">0.3</text>
<path d="M322.62 470.45V476.05" stroke="#000" stroke-width="1.40"/>
<text x="322.62" y="494.90" text-anchor="middle" class="tk">0.4</text>
<path d="M438.58 470.45V476.05" stroke="#000" stroke-width="1.40"/>
<text x="438.58" y="494.90" text-anchor="middle" class="tk">0.5</text>
<path d="M554.54 470.45V476.05" stroke="#000" stroke-width="1.40"/>
<text x="554.54" y="494.90" text-anchor="middle" class="tk">0.6</text>
<path d="M670.50 470.45V476.05" stroke="#000" stroke-width="1.40"/>
<text x="670.50" y="494.90" text-anchor="middle" class="tk">0.7</text>
<path d="M53.45 448.40H47.85" stroke="#000" stroke-width="1.40"/>
<text x="41.40" y="454.60" text-anchor="end" class="tk">0</text>
<path d="M53.45 390.36H47.85" stroke="#000" stroke-width="1.40"/>
<text x="41.40" y="396.56" text-anchor="end" class="tk">10</text>
<path d="M53.45 332.32H47.85" stroke="#000" stroke-width="1.40"/>
<text x="41.40" y="338.52" text-anchor="end" class="tk">20</text>
<path d="M53.45 274.28H47.85" stroke="#000" stroke-width="1.40"/>
<text x="41.40" y="280.48" text-anchor="end" class="tk">30</text>
<path d="M53.45 216.24H47.85" stroke="#000" stroke-width="1.40"/>
<text x="41.40" y="222.44" text-anchor="end" class="tk">40</text>
<path d="M53.45 158.20H47.85" stroke="#000" stroke-width="1.40"/>
<text x="41.40" y="164.40" text-anchor="end" class="tk">50</text>
<path d="M53.45 100.16H47.85" stroke="#000" stroke-width="1.40"/>
<text x="41.40" y="106.36" text-anchor="end" class="tk">60</text>
<path d="M53.45 42.12H47.85" stroke="#000" stroke-width="1.40"/>
<text x="41.40" y="48.32" text-anchor="end" class="tk">70</text>
<text x="368.9" y="517.8" text-anchor="middle" class="lb">CMI</text>
<text transform="translate(13.8 238.4) rotate(-90)" text-anchor="middle" class="lb">Percentage of positives</text>
<rect x="63.30" y="9.80" width="130.90" height="130.20" rx="2.8" fill="#fff" fill-opacity="0.8" stroke="#ccc" stroke-opacity="0.8" stroke-width="1.4"/>
<path d="M70 23.30H104.2" fill="none" stroke="#000" stroke-width="3.54" stroke-dasharray="13.10,5.66"/>
<path d="M83.70 23.30H90.70M87.20 19.80V26.80" stroke="#000" stroke-width="2.10" fill="none"/>
<text x="119.25" y="29.40" class="lg">MAIS 1<tspan dy="1.9" dx="0.7">+</tspan></text>
<path d="M70 48.30H104.2" fill="none" stroke="#000" stroke-width="3.54" stroke-dasharray="22.66,5.66,3.54,5.66"/>
<path d="M87.20 44.80L83.70 51.80L90.70 51.80Z" stroke="#000" stroke-width="2.10" stroke-linejoin="round" fill="#000"/>
<text x="119.25" y="54.40" class="lg">MAIS 2<tspan dy="1.9" dx="0.7">+</tspan></text>
<path d="M70 73.30H104.2" fill="none" stroke="#000" stroke-width="3.54" stroke-dasharray="3.54,5.84"/>
<circle cx="87.20" cy="73.30" r="3.50" stroke="#000" stroke-width="2.10" fill="#000"/>
<text x="119.25" y="79.40" class="lg">MAIS 3<tspan dy="1.9" dx="0.7">+</tspan></text>
<path d="M70 98.30H104.2" fill="none" stroke="#000" stroke-width="3.54" stroke-dasharray="13.10,5.66"/>
<rect x="83.70" y="94.80" width="7.00" height="7.00" stroke="#000" stroke-width="2.10" fill="#000"/>
<text x="119.25" y="104.40" class="lg">MAIS 4<tspan dy="1.9" dx="0.7">+</tspan></text>
<path d="M70 123.30H104.2" fill="none" stroke="#000" stroke-width="3.54" stroke-dasharray="22.66,5.66,3.54,5.66"/>
<path d="M83.70 119.80L90.70 126.80M83.70 126.80L90.70 119.80" stroke="#000" stroke-width="2.10" fill="none"/>
<text x="119.25" y="129.40" class="lg">MAIS 5<tspan dy="1.9" dx="0.7">+</tspan></text>
</svg>
</body></html>
